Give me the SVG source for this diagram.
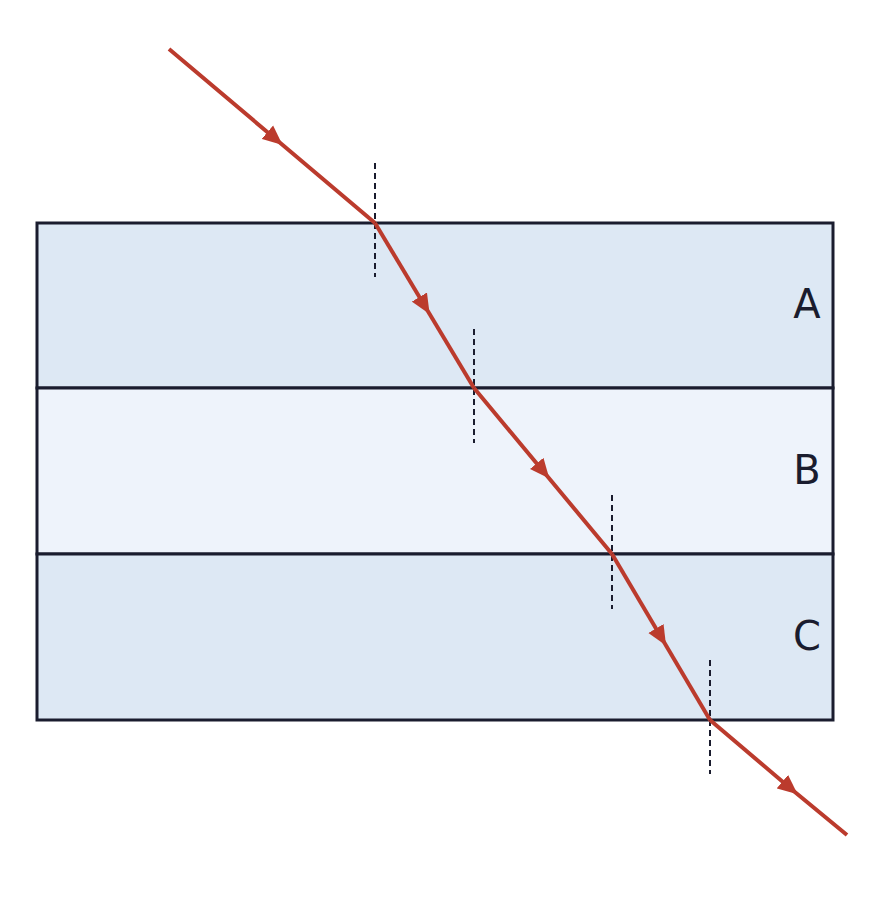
<svg xmlns="http://www.w3.org/2000/svg" width="870" height="910" viewBox="0 0 870 910">
  <style>
    .layer { stroke: #1a1c2e; stroke-width: 3; }
    .la { fill: #dde8f4; }
    .lb { fill: #eef3fb; }
    .lbl { font-family: "DejaVu Sans", "Noto Sans", sans-serif; font-size: 40px; fill: #1a1c2e; text-anchor: middle; }
    .normal { stroke: #1a1c2e; stroke-width: 2; stroke-dasharray: 6 4; fill: none; }
    .ray { stroke: #bb3b2d; stroke-width: 4; fill: none; marker-mid: url(#arr); stroke-linejoin: round; }
  </style>
  <defs>
    <marker id="arr" markerUnits="userSpaceOnUse" markerWidth="22" markerHeight="18" refX="9" refY="8" orient="auto" viewBox="0 0 20 16">
      <path d="M0,0 L18,8 L0,16 Z" fill="#bb3b2d"/>
    </marker>
  </defs>
  <rect width="870" height="910" fill="#ffffff"/>
  <g id="layerA">
    <rect class="layer la" x="37" y="223" width="796" height="165"/>
    <text class="lbl" x="807" y="318">A</text>
  </g>
  <g id="layerB">
    <rect class="layer lb" x="37" y="388" width="796" height="166"/>
    <text class="lbl" x="807" y="484">B</text>
  </g>
  <g id="layerC">
    <rect class="layer la" x="37" y="554" width="796" height="166"/>
    <text class="lbl" x="807" y="650">C</text>
  </g>
  <g id="normals">
    <line class="normal" x1="375" y1="163" x2="375" y2="277"/>
    <line class="normal" x1="474" y1="329" x2="474" y2="443"/>
    <line class="normal" x1="612" y1="495" x2="612" y2="609"/>
    <line class="normal" x1="710" y1="660" x2="710" y2="774"/>
  </g>
  <g id="connectors">
    <path class="ray" d="M169,49 L275,138.5 L375,223"/>
    <path class="ray" d="M375,223 L424.5,305.5 L474,388"/>
    <path class="ray" d="M474,388 L543,471 L612,554"/>
    <path class="ray" d="M612,554 L661,637 L710,720"/>
    <path class="ray" d="M710,720 L790,788 L847,835"/>
  </g>
</svg>
